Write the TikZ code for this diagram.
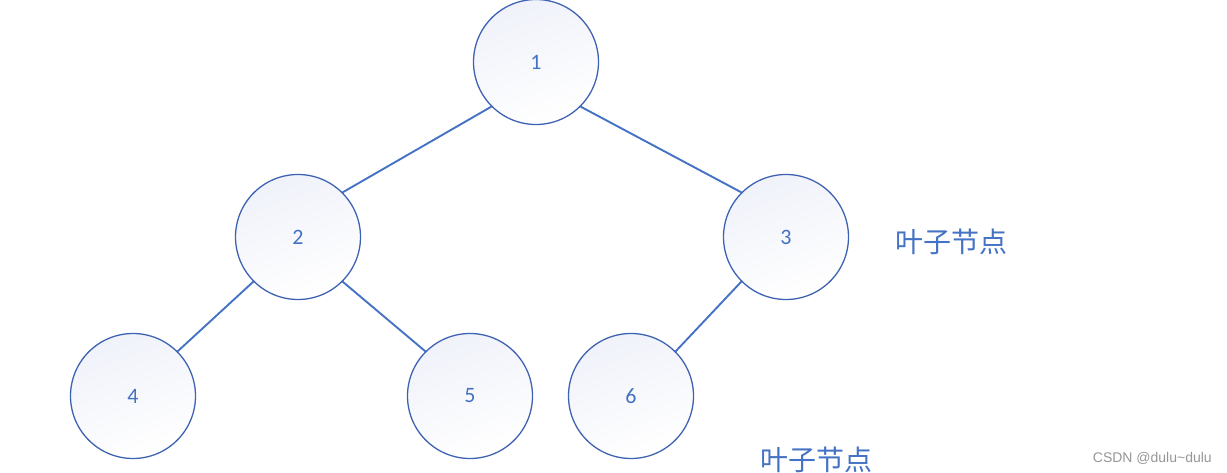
\documentclass[tikz,border=0pt]{standalone}
\usepackage{fontspec}
\setmainfont{Carlito}
\newfontfamily\cjk{Noto Sans CJK SC}
\newfontfamily\wm{Liberation Sans}
\definecolor{edgeblue}{RGB}{68,114,196}
\definecolor{ringblue}{RGB}{62,98,178}
\definecolor{topfill}{RGB}{240,242,250}
\definecolor{wmgray}{RGB}{150,150,150}
\begin{document}
\begin{tikzpicture}[x=1pt,y=-1pt,
  treenode/.style={circle, draw=ringblue, line width=1.3pt, minimum size=125pt, inner sep=0pt,
    top color=topfill, bottom color=white, shading angle=20,
    text=edgeblue, font=\fontsize{22}{26}\selectfont},
  link/.style={draw=edgeblue, line width=1.9pt},
  leaflabel/.style={text=edgeblue, font=\cjk\fontsize{28}{32}\selectfont, inner sep=0pt}
]
\useasboundingbox (0,0) rectangle (1227,473);
\node[treenode] (n1) at (536,62) {1};
\node[treenode] (n2) at (298,237) {2};
\node[treenode] (n3) at (786,237) {3};
\node[treenode] (n4) at (133,396) {4};
\node[treenode] (n5) at (470,396) {5};
\node[treenode] (n6) at (631,396) {6};
\path[link] (n1.south west) -- (n2.north east);
\path[link] (n1.south east) -- (n3.north west);
\path[link] (n2.south west) -- (n4.north east);
\path[link] (n2.south east) -- (n5.north west);
\path[link] (n3.south west) -- (n6.north east);
\node[leaflabel, anchor=west] (lab1) at (895,242) {叶子节点};
\node[leaflabel, anchor=west] (lab2) at (760,460) {叶子节点};
\node[text=wmgray, font=\wm\fontsize{14}{16}\selectfont, anchor=east, inner sep=0pt] (wm) at (1212,458) {CSDN @dulu\textasciitilde dulu};
\end{tikzpicture}
\end{document}
